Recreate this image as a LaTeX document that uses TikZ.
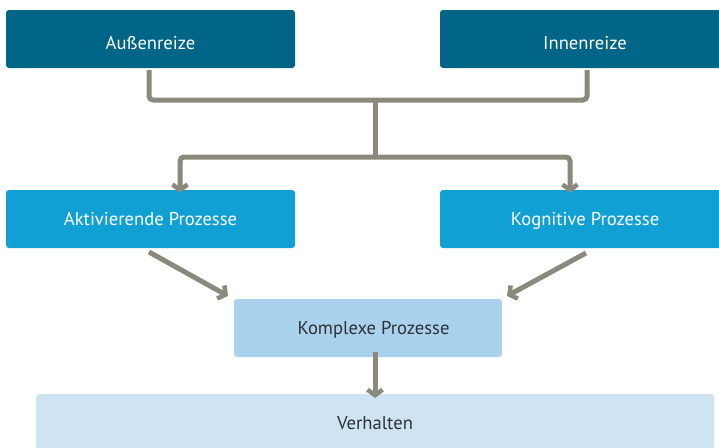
\documentclass[tikz,border=0pt]{standalone}
\usepackage{fontspec}
\setmainfont{PT Sans}
\usetikzlibrary{arrows.meta}
\definecolor{dark}{HTML}{006586}
\definecolor{mid}{HTML}{10A0D4}
\definecolor{light}{HTML}{AAD2EC}
\definecolor{pale}{HTML}{CFE4F3}
\definecolor{conn}{HTML}{8B897C}
\definecolor{txt}{HTML}{2E3135}
\tikzset{
  boxfont/.style={font=\fontsize{18.6}{21}\selectfont, text height=13.4pt, text depth=0pt},
  box/.style={rounded corners=3pt, inner sep=0pt, boxfont},
  conline/.style={draw=conn, line width=5pt, rounded corners=4pt},
  arr/.style={conline, -{Straight Barb[length=5.5pt,width=15pt,line width=4.5pt]}},
}
\begin{document}
\begin{tikzpicture}[x=1pt,y=-1pt]
\useasboundingbox (0,0) rectangle (719,447);
\fill[white] (0,0) rectangle (719,447);
\node[box, fill=dark, text=white, minimum width=289pt, minimum height=58pt] (aus) at (150.5,39) {\raisebox{-3.6pt}{Außenreize}};
\node[box, fill=dark, text=white, minimum width=290pt, minimum height=58pt] (inn) at (585,39) {\raisebox{-3.6pt}{Innenreize}};
\node[box, fill=mid, text=white, minimum width=289pt, minimum height=58pt] (akt) at (150.5,219) {Aktivierende Prozesse};
\node[box, fill=mid, text=white, minimum width=290pt, minimum height=58pt] (kog) at (585,219) {Kognitive Prozesse};
\node[box, fill=light, text=txt, minimum width=268pt, minimum height=58pt] (kom) at (368,328) {\hspace*{11pt}Komplexe Prozesse};
\node[box, fill=pale, text=txt, minimum width=678pt, minimum height=62pt, anchor=north west] (ver) at (36,394) {};
\node[boxfont, inner sep=0pt, text=txt] (vertxt) at (375,422.6) {Verhalten};
\coordinate (j1) at (375,100);
\coordinate (j2) at (375,157);
\draw[conline] ([yshift=-2pt]aus.south -| 149,0) |- (j1) -| ([yshift=-2pt]inn.south -| 587,0);
\draw[conline] (j1) -- (j2);
\draw[arr] (j2) -| ([yshift=-3pt]akt.north -| 180,0);
\draw[arr] (j2) -| ([yshift=-3pt]kog.north -| 570,0);
\draw[arr] (149,252) -- (228,296);
\draw[arr] (586,253) -- (507,296);
\draw[arr] ([yshift=5pt]kom.south -| 375,0) -- ([yshift=-4pt]ver.north -| 375,0);
\end{tikzpicture}
\end{document}
